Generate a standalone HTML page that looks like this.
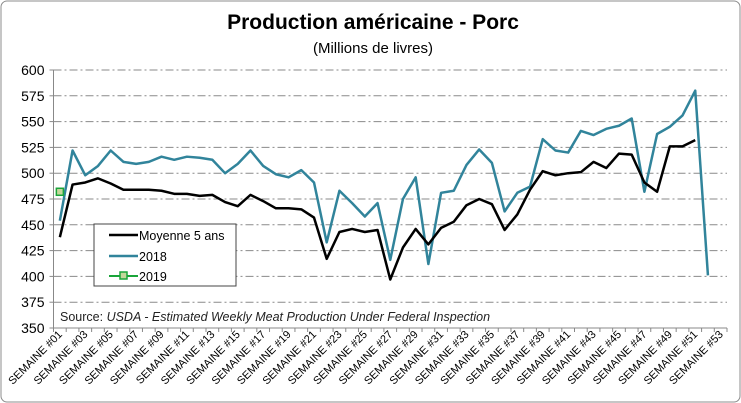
<!DOCTYPE html>
<html><head><meta charset="utf-8"><style>
body{margin:0;background:#fff;font-family:"Liberation Sans",Arial,sans-serif}
svg{display:block}
</style></head><body>
<svg id="chart" width="741" height="403" xmlns="http://www.w3.org/2000/svg">
<rect x="1" y="1" width="739" height="401" rx="6" fill="#fff" stroke="#8c8c8c"/>
<text x="373" y="29" text-anchor="middle" font-size="21" font-weight="bold">Production américaine - Porc</text>
<text x="373" y="53" text-anchor="middle" font-size="15">(Millions de livres)</text>
<g id="grid"></g><g id="yticks"></g><g id="xticks"></g><g id="series"></g>
<text x="60" y="321" font-size="12.5" fill="#222">Source: <tspan font-style="italic">USDA - Estimated Weekly Meat Production Under Federal Inspection</tspan></text>
<g>
<rect x="94" y="224" width="142" height="62" fill="#fff" stroke="#444"/>
<line x1="109" y1="235" x2="138" y2="235" stroke="#000" stroke-width="2.5"/>
<text x="139" y="240" font-size="12.5">Moyenne 5 ans</text>
<line x1="109" y1="256" x2="138" y2="256" stroke="#31849b" stroke-width="2.5"/>
<text x="139" y="261" font-size="12.5">2018</text>
<line x1="109" y1="276" x2="138" y2="276" stroke="#1aa53a" stroke-width="2"/>
<rect x="120" y="272" width="7" height="7" fill="#c4d79b" stroke="#1aa53a" stroke-width="1.5"/>
<text x="139" y="281" font-size="12.5">2019</text>
</g>
</svg>
<script>
const yTicks=[350,375,400,425,450,475,500,525,550,575,600];
const weeks=53;
const avg5=[438,489,491,495,490,484,484,484,483,480,480,478,479,472,468,479,473,466,466,465,457,417,443,446,443,445,397,428,446,431,447,453,469,475,470,445,460,484,502,498,500,501,511,505,519,518,491,482,526,526,532];
const s2018=[454,522,498,507,522,511,509,511,516,513,516,515,513,500,509,522,507,499,496,503,491,433,483,471,458,471,416,475,496,412,481,483,508,523,510,463,481,487,533,522,520,541,537,543,546,553,482,538,545,556,580,401];
const s2019=[482];
const NS="http://www.w3.org/2000/svg";
const L=53.5,R=727,T=70,B=328;
const step=(R-L)/weeks;
const x=i=>L+step*(i+0.5);
const y=v=>B-(v-350)/(600-350)*(B-T);
function mk(tag,attrs,parent){const e=document.createElementNS(NS,tag);for(const k in attrs)e.setAttribute(k,attrs[k]);parent.appendChild(e);return e;}
const grid=document.getElementById('grid'),yt=document.getElementById('yticks'),xt=document.getElementById('xticks'),ser=document.getElementById('series');
yTicks.forEach(v=>{
  if(v>350){const g=mk('line',{x1:L,x2:R,y1:y(v),y2:y(v),stroke:'#8a8a8a','stroke-dasharray':'8,3,2,3'},grid);
  
  }
  const t=mk('text',{x:L-9,y:y(v)+5,'text-anchor':'end','font-size':'14'},yt);t.textContent=v;
  
  
  mk('line',{x1:L-4,x2:L,y1:y(v),y2:y(v),stroke:'#888'},yt);
});
mk('line',{x1:L,x2:L,y1:T,y2:B,stroke:'#888'},yt);
mk('line',{x1:L,x2:R,y1:B,y2:B,stroke:'#888'},xt);
for(let i=0;i<=weeks;i++){mk('line',{x1:L+step*i,x2:L+step*i,y1:B,y2:B+4,stroke:'#888'},xt);}
for(let i=0;i<weeks;i+=2){
  const lbl='SEMAINE #'+String(i+1).padStart(2,'0');
  const t=mk('text',{x:x(i)+3,y:B+7,'text-anchor':'end','font-size':'11',transform:`rotate(-45 ${x(i)+3} ${B+7})`},xt);
  t.textContent=lbl;
  
  
}
function line(data,color,name){
  const p=mk('polyline',{points:data.map((v,i)=>x(i)+','+y(v)).join(' '),fill:'none',stroke:color,'stroke-width':'2.5','stroke-linejoin':'round'},ser);
  
  
}
line(s2018,'#31849b','series-2018');
line(avg5,'#000','series-moyenne-5-ans');
s2019.forEach((v,i)=>{
  const r=mk('rect',{x:x(i)-3.5,y:y(v)-3.5,width:7,height:7,fill:'#c4d79b',stroke:'#1aa53a','stroke-width':'1.5'},ser);
  
  
});
</script>
</body></html>
